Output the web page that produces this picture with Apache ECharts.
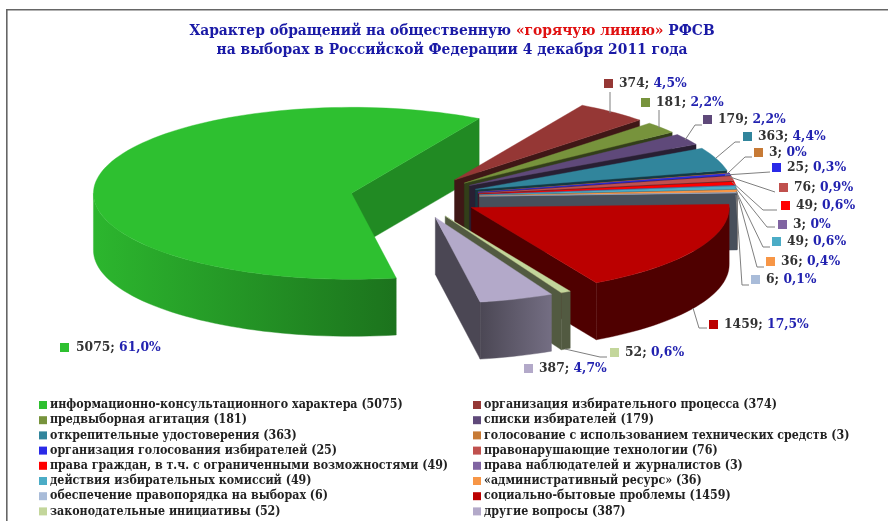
<!DOCTYPE html>
<html>
<head>
    <meta charset="utf-8">
    <script src="https://cdn.jsdelivr.net/npm/echarts@6/dist/echarts.min.js"></script>
    <style>html,body{margin:0;padding:0;background:#fff}</style>
</head>
<body>
<div id="main" style="width:888px;height:521px;"></div>
<script type="text/javascript">
    // данные с диаграммы
    var categories = ['информационно-консультационного характера', 'организация избирательного процесса',
        'предвыборная агитация', 'списки избирателей', 'открепительные удостоверения',
        'голосование с использованием технических средств', 'организация голосования избирателей',
        'правонарушающие технологии', 'права граждан, в т.ч. с ограниченными возможностями',
        'права наблюдателей и журналистов', 'действия избирательных комиссий', '«административный ресурс»',
        'обеспечение правопорядка на выборах', 'социально-бытовые проблемы', 'законодательные инициативы',
        'другие вопросы'];
    var values = [5075, 374, 181, 179, 363, 3, 25, 76, 49, 3, 49, 36, 6, 1459, 52, 387];
    var percents = ['61,0%', '4,5%', '2,2%', '2,2%', '4,4%', '0%', '0,3%', '0,9%', '0,6%', '0%', '0,6%', '0,4%', '0,1%', '17,5%', '0,6%', '4,7%'];

    // оформление
    var topColors = ['#2ec030', '#953735', '#77933c', '#5f497a', '#31859c', '#c77a35', '#2a2ae8', '#c0504d',
        '#ff0000', '#8064a2', '#4bacc6', '#f79646', '#a9bcd9', '#bb0000', '#c3d69b', '#b3a9c9'];
    var wallFactor = 0.42;
    var greenWallFactor = 0.72;

    // геометрия псевдо-3D круга
    var cx = 415, cy = 197, rx = 258, ry = 86, depth = 57, explode = 0.25, startDeg = 170;

    // подпись: маркер [x, y] и выноска
    var labelPos = [[64, 347], [608, 83], [645, 102], [707, 119], [747, 136], [758, 152], [776, 167], [783, 187],
        [785, 205], [782, 224], [776, 241], [770, 261], [755, 279], [713, 324], [614, 352], [528, 368]];
    var leaders = [null,
        [[610, 113], [610, 92]],
        [[659, 128], [659, 110]],
        [[685, 140], [695, 125], [702, 125]],
        [[716, 158], [735, 142], [740, 142]],
        [[728, 173], [745, 157], [752, 157]],
        [[725, 175], [770, 172]],
        [[730, 177], [775, 192]],
        [[732, 182], [763, 210], [777, 210]],
        [[735, 187], [767, 227], [775, 227]],
        [[736, 191], [763, 247], [770, 247]],
        [[737, 193], [757, 267], [764, 267]],
        [[736, 195], [742, 285], [749, 285]],
        [[693, 308], [699, 328], [707, 328]],
        [[565, 349], [600, 357], [607, 357]],
        null];

    var total = values.reduce(function (a, b) { return a + b; }, 0);
    var serifFont = '"DejaVu Serif Condensed", "DejaVu Serif", serif';

    function shade(hex, k) {
        var n = parseInt(hex.slice(1), 16);
        var r = Math.round((n >> 16 & 255) * k), g = Math.round((n >> 8 & 255) * k), b = Math.round((n & 255) * k);
        return 'rgb(' + r + ',' + g + ',' + b + ')';
    }

    function pt(c, deg) {
        var t = deg * Math.PI / 180;
        return [c[0] + rx * Math.sin(t), c[1] - ry * Math.cos(t)];
    }

    function arc(c, from, to) {
        var out = [], n = Math.max(2, Math.ceil((to - from) / 2));
        for (var i = 0; i <= n; i++) {
            out.push(pt(c, from + (to - from) * i / n));
        }
        return out;
    }

    function down(points) {
        return points.map(function (p) { return [p[0], p[1] + depth]; }).reverse();
    }

    function poly(points, fill) {
        return {type: 'polygon', shape: {points: points}, style: {fill: fill, stroke: fill, lineWidth: 0.4}};
    }

    // рисует один сектор: стенка реза, боковая дуга, верх
    function sliceRenderer(idx) {
        return function (params, api) {
            var before = 0;
            for (var i = 0; i < idx; i++) before += values[i];
            var from = startDeg + before / total * 360;
            var to = from + api.value(0) / total * 360;
            var mid = (from + to) / 2, t = mid * Math.PI / 180;
            var c = [cx + explode * rx * Math.sin(t), cy - explode * ry * Math.cos(t)];
            var color = topColors[idx], kids = [];
            var wall = shade(color, idx === 0 ? greenWallFactor : wallFactor);

            if (from >= 360) {
                from -= 360;
                to -= 360;
            }
            var endN = to % 360;
            // стенка реза видна, только если смотрит на зрителя
            if (from > 180) {
                var a = pt(c, from);
                kids.push(poly([c, a].concat(down([c, a])), wall));
            }
            if (endN < 180) {
                var b = pt(c, to);
                kids.push(poly([c, b].concat(down([c, b])), wall));
            }
            // боковая дуга только на передней половине
            var rimFrom = Math.max(from, 90), rimTo = Math.min(to, 270);
            if (rimTo > rimFrom) {
                var top = arc(c, rimFrom, rimTo);
                var k0 = idx === 0 ? 0.6 : wallFactor, k1 = idx === 0 ? 0.95 : idx === 15 ? 0.65 : wallFactor;
                // дуга идёт справа налево, градиент задан по x
                var fill = new echarts.graphic.LinearGradient(0, 0, 1, 0, [
                    {offset: 0, color: shade(color, idx === 0 ? k1 : k0)},
                    {offset: 1, color: shade(color, idx === 0 ? k0 : k1)}
                ]);
                kids.push(poly(top.concat(down(top)), fill));
            }
            kids.push(poly([c].concat(arc(c, from, to)), color));
            return {type: 'group', children: kids};
        };
    }

    var series = categories.map(function (name, i) {
        return {
            name: name + ' (' + values[i] + ')',
            type: 'custom',
            coordinateSystem: 'none',
            silent: true,
            animation: false,
            itemStyle: {color: topColors[i]},
            data: [[values[i]]],
            renderItem: sliceRenderer(i)
        };
    });

    var graphics = [
        {type: 'rect', shape: {x: 6, y: 9, width: 882, height: 1.6}, style: {fill: '#666'}},
        {type: 'rect', shape: {x: 6, y: 9, width: 1.6, height: 512}, style: {fill: '#666'}}
    ];
    categories.forEach(function (name, i) {
        var p = labelPos[i];
        if (leaders[i]) {
            graphics.push({type: 'polyline', shape: {points: leaders[i]}, style: {fill: 'none', stroke: '#7f7f7f', lineWidth: 1}, z: 5});
        }
        graphics.push({type: 'rect', shape: {x: p[0] - 4, y: p[1] - 4, width: 9, height: 9}, style: {fill: topColors[i]}, z: 6});
        graphics.push({
            type: 'text', x: p[0] + (i === 0 ? 12 : 11), y: p[1], z: 6,
            style: {
                text: '{a|' + values[i] + '; }{b|' + percents[i] + '}',
                verticalAlign: 'middle',
                rich: {
                    a: {font: 'bold 13.7px ' + serifFont, fill: '#333', color: '#333'},
                    b: {font: 'bold 13.7px ' + serifFont, fill: '#2222b0', color: '#2222b0'}
                }
            }
        });
    });

    function legendFor(left, names) {
        return {
            orient: 'vertical', left: left, top: 399, height: 122,
            padding: 0,
            itemWidth: 8, itemHeight: 8, itemGap: 3.2,
            icon: 'rect',
            selectedMode: false,
            data: names,
            textStyle: {fontFamily: serifFont, fontWeight: 'bold', fontSize: 12.3, color: '#222', padding: [0, 0, 0, -2]}
        };
    }
    var leftNames = [], rightNames = [];
    series.forEach(function (s, i) { (i % 2 ? rightNames : leftNames).push(s.name); });

    var myChart = echarts.init(document.getElementById('main'));
    var option = {
        backgroundColor: '#fff',
        animation: false,
        title: {
            left: 447, top: 16, textAlign: 'center',
            text: '{b|Характер обращений на общественную }{r|«горячую линию»}{b| РФСВ}\n{b|на выборах в Российской Федерации 4 декабря 2011 года}',
            textStyle: {
                lineHeight: 19,
                rich: {
                    b: {fontFamily: serifFont, fontWeight: 'bold', fontSize: 15.4, color: '#1a1aa6', lineHeight: 19},
                    r: {fontFamily: serifFont, fontWeight: 'bold', fontSize: 15.4, color: '#e01010', lineHeight: 19}
                }
            }
        },
        legend: [legendFor(39, leftNames), legendFor(473, rightNames)],
        graphic: graphics,
        series: series
    };
    myChart.setOption(option);
</script>
</body>
</html>
